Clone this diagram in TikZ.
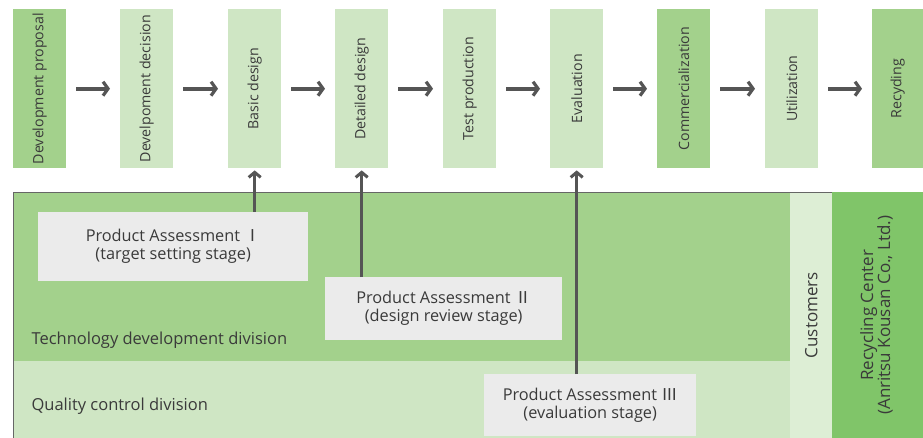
\documentclass[tikz,border=0pt]{standalone}
\usepackage{fontspec}
\setmainfont{Open Sans}
\newfontfamily\cjk{Noto Sans CJK JP}
\usetikzlibrary{arrows.meta}
\definecolor{dgreen}{HTML}{A3D18C}
\definecolor{lgreen}{HTML}{CFE6C4}
\definecolor{xgreen}{HTML}{DDEED5}
\definecolor{rgreen}{HTML}{80C569}
\definecolor{pbox}{HTML}{EBEBEB}
\definecolor{txt}{HTML}{3A3A3A}
\definecolor{arr}{HTML}{555555}
\begin{document}
\begin{tikzpicture}[x=1pt,y=-1pt,
  stage/.style={minimum width=53pt,minimum height=159pt,inner sep=0pt,anchor=north west,text=txt,font=\fontsize{14.2}{16}\selectfont},
  flow/.style={draw=arr,line width=3.8pt,-{Straight Barb[length=5pt,width=14pt,line width=3.2pt]}},
  upar/.style={draw=arr,line width=3pt,-{Straight Barb[length=5pt,width=12pt,line width=3pt]}},
  pa/.style={fill=pbox,inner sep=0pt,anchor=north west,text=txt,align=center,font=\fontsize{16.3}{18}\selectfont},
  lbl/.style={text=txt,anchor=west,font=\fontsize{16.5}{18}\selectfont},
  side/.style={inner sep=0pt,anchor=north west,text=txt,font=\fontsize{17}{19}\selectfont}]
\useasboundingbox (0,0) rectangle (923,438);
% top stages
\node[stage,fill=dgreen] (s1) at (13,9) {\rotatebox{90}{Development proposal}};
\node[stage,fill=lgreen] (s2) at (120,9) {\rotatebox{90}{Develpoment decision}};
\node[stage,fill=lgreen] (s3) at (228,9) {\rotatebox{90}{Basic design}};
\node[stage,fill=lgreen] (s4) at (335,9) {\rotatebox{90}{Detailed design}};
\node[stage,fill=lgreen] (s5) at (443,9) {\rotatebox{90}{Test production}};
\node[stage,fill=lgreen] (s6) at (550,9) {\rotatebox{90}{Evaluation}};
\node[stage,fill=dgreen] (s7) at (657,9) {\rotatebox{90}{Commercialization}};
\node[stage,fill=lgreen] (s8) at (765,9) {\rotatebox{90}{Utilization}};
\node[stage,fill=dgreen,minimum width=51pt] (s9) at (872,9) {\rotatebox{90}{Recyding}};
\foreach \a/\b in {s1/s2,s2/s3,s3/s4,s4/s5,s5/s6,s6/s7,s7/s8,s8/s9}{
  \draw[flow] ([xshift=10pt]\a.east) -- ([xshift=-10pt]\b.west);
}
% bottom regions
\fill[dgreen] (13,192) rectangle (790,361);
\fill[lgreen] (13,361) rectangle (790,438);
\node[side,fill=xgreen,minimum width=42pt,minimum height=246pt] (cu) at (790,192) {\rotatebox{90}{Customers}};
\draw[gray!80!black,line width=0.8pt] (13,438) -- (13,192) -- (832,192) -- (832,438);
\node[side,fill=rgreen,minimum width=91pt,minimum height=246pt] (rc) at (832,192) {\rotatebox{90}{\begin{tabular}{@{}c@{}}Recycling Center\\[-2pt](Anritsu Kousan Co., Ltd.)\end{tabular}}};
\node[lbl] (td) at (28,340) {Technology development division};
\node[lbl] (qc) at (28,406) {Quality control division};
% assessments
\node[pa,minimum width=270pt,minimum height=69pt] (p1) at (38,212) {Product Assessment {\cjk Ⅰ}\\(target setting stage)};
\node[pa,minimum width=237pt,minimum height=63pt] (p2) at (325,277) {Product Assessment {\cjk Ⅱ}\\(design review stage)};
\node[pa,minimum width=212pt,minimum height=62pt] (p3) at (484,374) {Product Assessment {\cjk Ⅲ}\\(evaluation stage)};
\draw[upar] (p1.north -| s3.south) -- ([yshift=-2pt]s3.south);
\draw[upar] (p2.north -| s4.south) -- ([yshift=-2pt]s4.south);
\draw[upar] (p3.north -| s6.south) -- ([yshift=-2pt]s6.south);
\end{tikzpicture}
\end{document}
